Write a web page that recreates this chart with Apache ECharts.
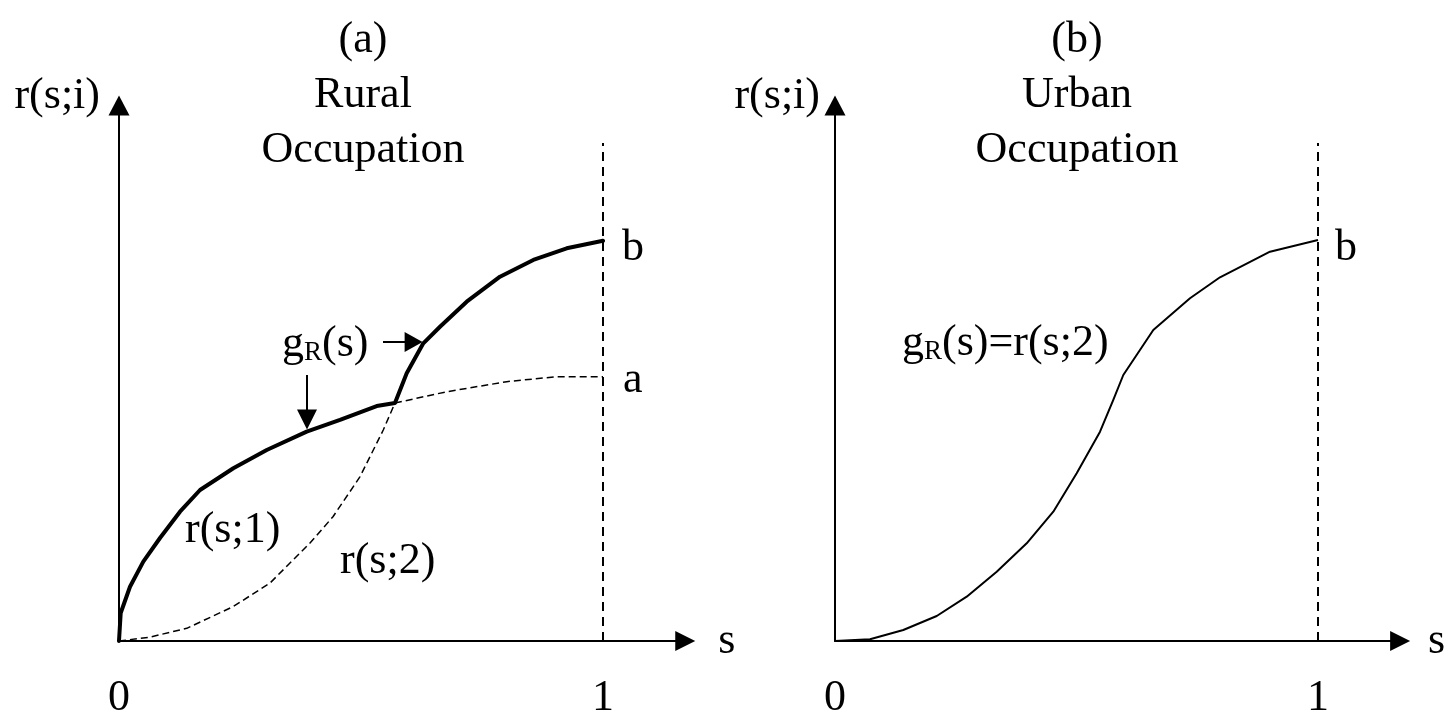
<!DOCTYPE html>
<html>
<head>
<meta charset="utf-8">
<script src="https://cdn.jsdelivr.net/npm/echarts@6/dist/echarts.min.js"></script>
<style>
  html, body { margin: 0; padding: 0; background: #fff; }
  #chart { width: 1450px; height: 722px; }
</style>
</head>
<body>
<div id="chart"></div>
<script>
// ---- values ----
// r(s;1): rural occupation 1 (concave, levels off at a)
const r1S = [0, 0.0035, 0.0227, 0.0502, 0.0847, 0.126, 0.1674, 0.2362, 0.3052, 0.3878, 0.4566, 0.5324, 0.5702, 0.677, 0.801, 0.904, 1.0];
const r1Y = [0, 0.0575, 0.1115, 0.163, 0.2116, 0.2656, 0.3102, 0.3548, 0.3924, 0.430, 0.454, 0.4827, 0.4889, 0.512, 0.5327, 0.543, 0.543];
// r(s;2): rural occupation 2 (S-shaped, ends at b)
const r2S = [0, 0.064, 0.14, 0.2355, 0.312, 0.3946, 0.4421, 0.498, 0.546, 0.5702, 0.5944, 0.6287, 0.6632, 0.7184, 0.7872, 0.856, 0.925, 1.0];
const r2Y = [0, 0.008, 0.026, 0.0705, 0.119, 0.2013, 0.2553, 0.3375, 0.4334, 0.4889, 0.5499, 0.6115, 0.6456, 0.697, 0.7484, 0.7827, 0.8067, 0.8223];
// skill level where the two rural curves cross
const crossS = 0.5702;
// urban occupation: g_R(s) = r(s;2)
const uS = [0, 0.0725, 0.1414, 0.2106, 0.2727, 0.3348, 0.3969, 0.452, 0.5004, 0.5487, 0.5762, 0.5969, 0.659, 0.735, 0.7971, 0.9006, 1.0];
const uY = [0, 0.0035, 0.0226, 0.0514, 0.091, 0.1424, 0.2007, 0.2656, 0.3445, 0.43, 0.4951, 0.5464, 0.6389, 0.704, 0.7471, 0.7997, 0.8237];
// top skill level s = 1 and the height of its dashed marker
const sMax = 1;
const boundTop = 1.023;
// tick labels on the s axis
const sTicks = [0, 1];

// ---- helpers ----
const zip = (xs, ys) => xs.map((x, i) => [x, ys[i]]);
const r1 = zip(r1S, r1Y);
const r2 = zip(r2S, r2Y);
const urban = zip(uS, uY);
const r1Tail = r1.filter(p => p[0] >= crossS);   // dashed continuation to a
const r2Head = r2.filter(p => p[0] <= crossS);   // dashed lower part of r(s;2)
// g_R(s): upper envelope of the two rural curves
const envelope = r1.filter(p => p[0] <= crossS).concat(r2.filter(p => p[0] > crossS));
const boundLine = [[sMax, 0], [sMax, boundTop]];

const FONT = "'Liberation Serif', 'Times New Roman', serif";
const FS = 44;

function makeX(gridIndex, nameGap) {
  return {
    type: 'value', gridIndex, min: 0, max: 1.17,
    axisLine: { show: true, onZero: false, symbol: ['none', 'triangle'], symbolSize: [20, 20],
      lineStyle: { color: '#000', width: 2 } },
    axisTick: { show: false }, splitLine: { show: false },
    axisLabel: { show: true, customValues: sTicks, color: '#000', fontFamily: FONT, fontSize: FS,
      margin: 57, verticalAlign: 'middle', formatter: v => String(v) },
    name: 's', nameLocation: 'end', nameGap,
    nameTextStyle: { color: '#000', fontFamily: FONT, fontSize: FS, align: 'left', verticalAlign: 'middle',
      padding: [34, 0, 0, 0] }
  };
}
function makeY(gridIndex, padRight) {
  return {
    type: 'value', gridIndex, min: 0, max: 1.1,
    axisLine: { show: true, onZero: false, symbol: ['none', 'triangle'], symbolSize: [21, 20],
      lineStyle: { color: '#000', width: 2 } },
    axisTick: { show: false }, splitLine: { show: false }, axisLabel: { show: false },
    name: 'r(s;i)', nameLocation: 'end', nameGap: 9.5,
    nameTextStyle: { color: '#000', fontFamily: FONT, fontSize: FS, align: 'right', verticalAlign: 'middle',
      padding: [0, padRight, 0, 0] }
  };
}

const lineBase = { type: 'line', showSymbol: false, symbol: 'none', silent: true, animation: false, z: 3, smooth: false };
const dashThin = { color: '#000', width: 1.5, type: [7, 4] };
const dashBound = { color: '#000', width: 2, type: [9, 6] };

const option = {
  backgroundColor: '#fff',
  animation: false,
  grid: [
    { left: 119, top: 105.5, width: 1.17 * 484, height: 535.5, outerBoundsMode: 'none' },
    { left: 835, top: 105.5, width: 1.17 * 483, height: 535.5, outerBoundsMode: 'none' }
  ],
  xAxis: [makeX(0, 33), makeX(1, 28)],
  yAxis: [makeY(0, 19), makeY(1, 15)],
  series: [
    Object.assign({}, lineBase, { name: 'r(s;1) tail', xAxisIndex: 0, yAxisIndex: 0, data: r1Tail, lineStyle: dashThin }),
    Object.assign({}, lineBase, { name: 'r(s;2) head', xAxisIndex: 0, yAxisIndex: 0, data: r2Head, lineStyle: dashThin }),
    Object.assign({}, lineBase, { name: 'gR(s)', xAxisIndex: 0, yAxisIndex: 0, data: envelope, z: 4,
      lineStyle: { color: '#000', width: 4, join: 'round', cap: 'round' } }),
    Object.assign({}, lineBase, { name: 's=1 rural', xAxisIndex: 0, yAxisIndex: 0, data: boundLine, lineStyle: dashBound }),
    Object.assign({}, lineBase, { name: 'urban', xAxisIndex: 1, yAxisIndex: 1, data: urban,
      lineStyle: { color: '#000', width: 2, join: 'round' } }),
    Object.assign({}, lineBase, { name: 's=1 urban', xAxisIndex: 1, yAxisIndex: 1, data: boundLine, lineStyle: dashBound })
  ]
};

const chart = echarts.init(document.getElementById('chart'), null, { renderer: 'canvas' });
chart.setOption(option);

// ---- annotations placed from data coordinates ----
const toPx = (g, p) => chart.convertToPixel({ xAxisIndex: g, yAxisIndex: g }, p);
const envPx = envelope.map(p => toPx(0, p));

// point of the envelope at a given pixel x / pixel y
function envAtX(x) {
  for (let i = 1; i < envPx.length; i++) {
    const a = envPx[i - 1], b = envPx[i];
    if (x >= a[0] && x <= b[0]) { const t = (x - a[0]) / (b[0] - a[0]); return a[1] + t * (b[1] - a[1]); }
  }
  return envPx[envPx.length - 1][1];
}
function envAtY(y) {
  for (let i = envPx.length - 1; i > 0; i--) {
    const a = envPx[i - 1], b = envPx[i];
    if ((y - a[1]) * (y - b[1]) <= 0 && a[0] > 380) { const t = (y - a[1]) / (b[1] - a[1]); return a[0] + t * (b[0] - a[0]); }
  }
  return envPx[0][0];
}

const txt = (x, y, text, extra) => ({
  type: 'text', x, y, silent: true, z: 10,
  style: Object.assign({ text, fill: '#000', font: FS + 'px ' + FONT, align: 'left', verticalAlign: 'middle' }, extra || {})
});
const gRich = {
  m: { fontSize: FS, fontFamily: FONT, color: '#000', verticalAlign: 'bottom' },
  s: { fontSize: 27, fontFamily: FONT, color: '#000', verticalAlign: 'bottom' }
};
const line = (x1, y1, x2, y2) => ({ type: 'line', silent: true, z: 10, shape: { x1, y1, x2, y2 },
  style: { stroke: '#000', lineWidth: 2 } });
const tri = pts => ({ type: 'polygon', silent: true, z: 10, shape: { points: pts }, style: { fill: '#000' } });

// downward pointer onto r(s;1) part of g_R
const dX = 307;
const dTip = envAtX(dX) - 2;
// rightward pointer onto r(s;2) part of g_R
const rY = 342;
const rTip = envAtY(rY) - 2;

const bL = toPx(0, r2[r2.length - 1]);
const aL = toPx(0, r1[r1.length - 1]);
const bU = toPx(1, urban[urban.length - 1]);

chart.setOption({
  graphic: [
    txt(363, 13, '(a)\nRural\nOccupation', { align: 'center', verticalAlign: 'top', lineHeight: 55 }),
    txt(1077, 13, '(b)\nUrban\nOccupation', { align: 'center', verticalAlign: 'top', lineHeight: 55 }),
    txt(bL[0] + 19, bL[1] + 7.5, 'b'),
    txt(aL[0] + 20, aL[1] + 3.5, 'a'),
    txt(bU[0] + 17, bU[1] + 8, 'b'),
    txt(185, 530, 'r(s;1)'),
    txt(340, 561, 'r(s;2)'),
    { type: 'text', x: 282, y: 366, silent: true, z: 10,
      style: { text: '{m|g}{s|R}{m|(s)}', rich: gRich, align: 'left', verticalAlign: 'bottom' } },
    { type: 'text', x: 902, y: 365, silent: true, z: 10,
      style: { text: '{m|g}{s|R}{m|(s)=r(s;2)}', rich: gRich, align: 'left', verticalAlign: 'bottom' } },
    line(dX, 375, dX, dTip - 18),
    tri([[dX, dTip], [dX - 10, dTip - 20], [dX + 10, dTip - 20]]),
    line(383, rY, rTip - 16, rY),
    tri([[rTip, rY], [rTip - 18, rY - 10], [rTip - 18, rY + 10]])
  ]
});
</script>
</body>
</html>
